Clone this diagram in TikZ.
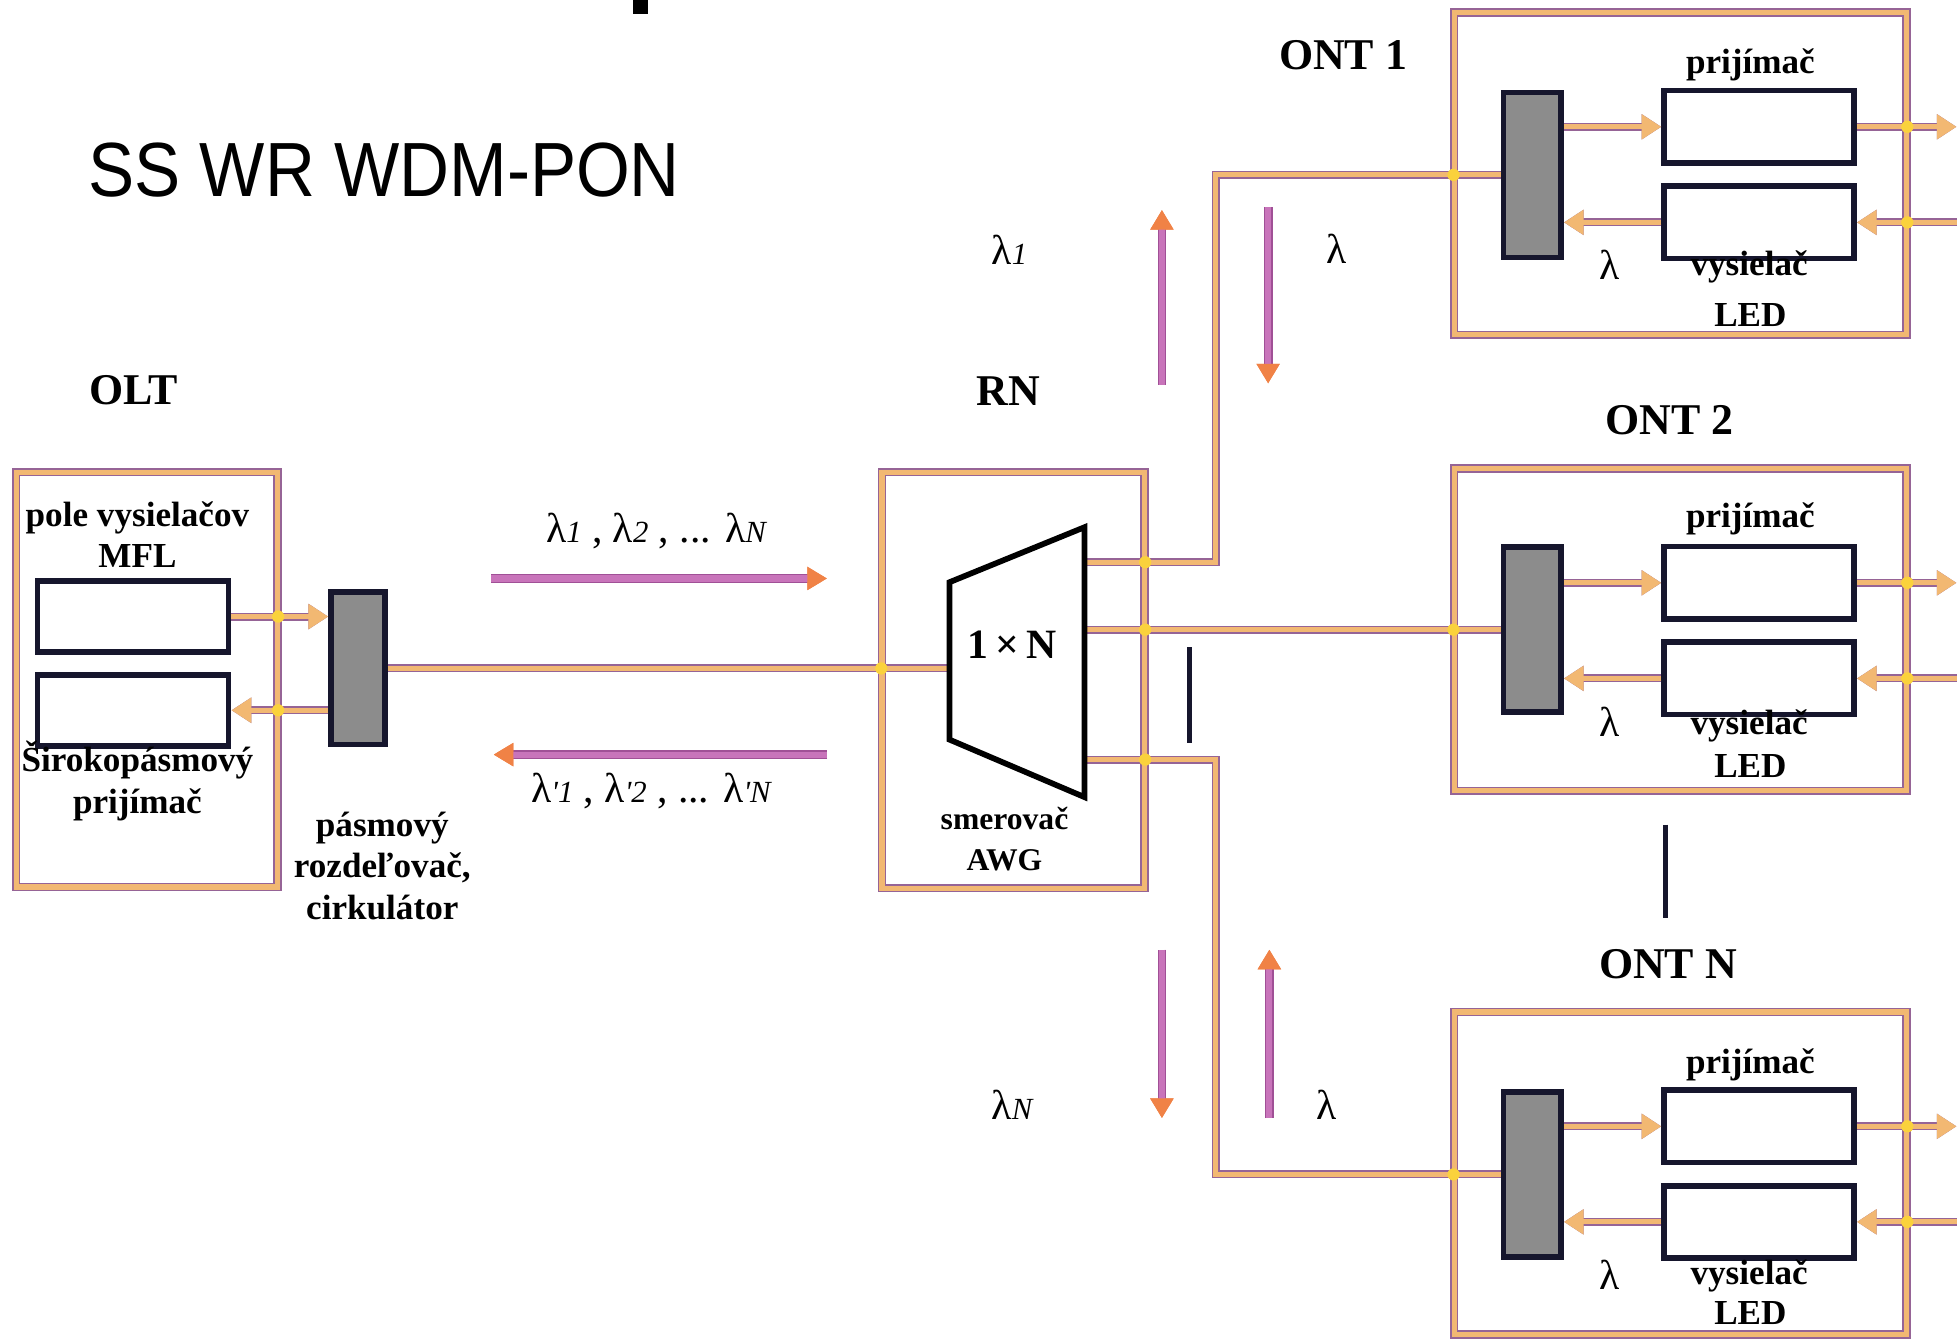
\documentclass[tikz,border=0pt]{standalone}
\usepackage{fontspec}
\setmainfont{Liberation Serif}
\setsansfont{Liberation Sans}
\usepackage{tikz}
\usetikzlibrary{arrows.meta,positioning,calc}

\definecolor{fiborange}{RGB}{242,184,114}
\definecolor{fibedge}{RGB}{150,100,150}
\definecolor{dotyellow}{RGB}{250,210,60}
\definecolor{boxnavy}{RGB}{22,22,45}
\definecolor{splgray}{RGB}{140,140,140}
\definecolor{arrpurple}{RGB}{200,116,186}
\definecolor{arredge}{RGB}{160,80,150}
\definecolor{arrorange}{RGB}{240,130,70}

\newcommand{\wl}[1]{λ{\itshape\fontsize{7}{7}\selectfont#1}}

\begin{document}
\begin{tikzpicture}[
  every node/.style={font=\bfseries\fontsize{8}{9.4}\selectfont, align=center},
  head/.style={font=\bfseries\fontsize{10}{12}\selectfont},
  lam/.style={font=\fontsize{9.5}{11}\selectfont},
  frame/.style={draw=fibedge, line width=0.35pt, double=fiborange, double distance=1.2pt, inner sep=0pt},
  unit/.style={draw=boxnavy, line width=1.3pt, fill=white, minimum width=1.52cm, minimum height=0.58cm, inner sep=0pt},
  splitter/.style={draw=boxnavy, line width=1.3pt, fill=splgray, minimum width=0.46cm, minimum height=1.32cm, inner sep=0pt},
  fiber/.style={draw=fiborange, line width=1.1pt, preaction={draw=fibedge, line width=1.8pt}},
  fibarr/.style={fiber, -{Triangle[length=4.5pt,width=5.5pt]}},
  wave/.style={draw=arrpurple, line width=1.4pt, preaction={draw=arredge, line width=2pt}, -{Triangle[length=4.5pt,width=5pt,color=arrorange]}},
]
\useasboundingbox (0,0) rectangle (15.68,-10.71);

% title
\node[font=\sffamily\fontsize{17.5}{20}\selectfont, anchor=base west, inner sep=0pt] (title) at (0.70,-1.57) {\scalebox{0.9}[1]{SS WR WDM-PON}};
\fill[black] (5.07,0) rectangle (5.19,-0.11);

% frames
\node[frame, minimum width=2.09cm, minimum height=3.32cm] (olt) at (1.175,-5.44) {};
\node[frame, minimum width=2.10cm, minimum height=3.33cm] (rn) at (8.11,-5.445) {};
\node[frame, minimum width=3.62cm, minimum height=2.58cm] (ont1) at (13.45,-1.39) {};
\node[frame, minimum width=3.62cm, minimum height=2.58cm] (ont2) at (13.45,-5.04) {};
\node[frame, minimum width=3.62cm, minimum height=2.58cm] (ontn) at (13.45,-9.39) {};

\node[head] (oltlab) at (1.07,-3.12) {OLT};
\node[head] (rnlab) at (8.07,-3.13) {RN};
\node[head] (ont1lab) at (10.75,-0.44) {ONT 1};
\node[head] (ont2lab) at (13.36,-3.36) {ONT 2};
\node[head] (ontnlab) at (13.35,-7.72) {ONT N};

% OLT
\node[unit, minimum width=1.53cm, minimum height=0.57cm] (mfl) at (1.065,-4.935) {};
\node[unit, minimum width=1.53cm, minimum height=0.57cm] (bbrx) at (1.065,-5.685) {};
\node[splitter, minimum width=0.43cm, minimum height=1.22cm] (circ) at (2.865,-5.35) {};
\node (mfllab) at (1.10,-4.28) {pole vysielačov\\MFL};
\node (bbrxlab) at (1.10,-6.25) {Širokopásmový\\prijímač};
\node (circlab) at (3.06,-6.93) {pásmový\\rozdeľovač,\\cirkulátor};

% ONT 1
\node[splitter] (spl1) at (12.265,-1.40) {};
\node[unit] (rx1) at (14.08,-1.015) {};
\node[unit] (tx1) at (14.08,-1.78) {};
\node (rx1lab) at (14.01,-0.52) {prijímač};
\node (tx1lab) at (14.00,-2.14) {vysielač};
\node (led1lab) at (14.01,-2.52) {LED};
\node[lam] (lam1) at (12.88,-2.12) {λ};

% ONT 2
\node[splitter] (spl2) at (12.265,-5.04) {};
\node[unit] (rx2) at (14.08,-4.665) {};
\node[unit] (tx2) at (14.08,-5.43) {};
\node (rx2lab) at (14.01,-4.15) {prijímač};
\node (tx2lab) at (14.00,-5.81) {vysielač};
\node (led2lab) at (14.01,-6.13) {LED};
\node[lam] (lam2) at (12.88,-5.78) {λ};

% ONT N
\node[splitter] (spln) at (12.265,-9.40) {};
\node[unit] (rxn) at (14.08,-9.015) {};
\node[unit] (txn) at (14.08,-9.78) {};
\node (rxnlab) at (14.01,-8.52) {prijímač};
\node (txnlab) at (14.00,-10.21) {vysielač};
\node (lednlab) at (14.01,-10.51) {LED};
\node[lam] (lamn) at (12.88,-10.20) {λ};

% AWG ports
\coordinate (awgin) at (7.60,-5.35);
\coordinate (awg1) at (8.68,-4.50);
\coordinate (awg2) at (8.68,-5.04);
\coordinate (awgn) at (8.68,-6.08);
\coordinate (rim) at (15.66,0);

% fibres
\draw[fibarr] (mfl.east) -- (mfl.east -| circ.west);
\draw[fibarr] (bbrx.east -| circ.west) -- (bbrx.east);
\draw[fiber] (circ.east) -- (awgin);
\draw[fiber] (awg1) -- ++(1.05,0) |- (spl1.west);
\draw[fiber] (awg2) -- (spl2.west);
\draw[fiber] (awgn) -- ++(1.05,0) |- (spln.west);
\draw[fibarr] (rx1.west -| spl1.east) -- (rx1.west);
\draw[fibarr] (tx1.west) -- (tx1.west -| spl1.east);
\draw[fibarr] (rx1.east) -- (rx1.east -| rim);
\draw[fibarr] (tx1.east -| rim) -- (tx1.east);
\draw[fibarr] (rx2.west -| spl2.east) -- (rx2.west);
\draw[fibarr] (tx2.west) -- (tx2.west -| spl2.east);
\draw[fibarr] (rx2.east) -- (rx2.east -| rim);
\draw[fibarr] (tx2.east -| rim) -- (tx2.east);
\draw[fibarr] (rxn.west -| spln.east) -- (rxn.west);
\draw[fibarr] (txn.west) -- (txn.west -| spln.east);
\draw[fibarr] (rxn.east) -- (rxn.east -| rim);
\draw[fibarr] (txn.east -| rim) -- (txn.east);

% crossings
\foreach \p in {olt.east |- mfl.east, olt.east |- bbrx.east, rn.west |- awgin, rn.east |- awg1, rn.east |- awg2, rn.east |- awgn,
  ont1.west |- spl1.west, ont1.east |- rx1.east, ont1.east |- tx1.east,
  ont2.west |- spl2.west, ont2.east |- rx2.east, ont2.east |- tx2.east,
  ontn.west |- spln.west, ontn.east |- rxn.east, ontn.east |- txn.east}
  \fill[dotyellow] (\p) circle (1.4pt);

% AWG
\draw[black, line width=1.3pt, fill=white, line join=miter] (awgin |- 0,-4.66) -- (awg1 |- 0,-4.22) -- (awg1 |- 0,-6.38) -- (awgin |- 0,-5.92) -- cycle;
\node[font=\bfseries\fontsize{9.5}{11}\selectfont] (awglab) at (8.10,-5.16) {1\,×\,N};
\node[font=\bfseries\fontsize{7.2}{9.4}\selectfont] (awgname) at (8.04,-6.715) {smerovač\\AWG};

% bars
\draw[boxnavy, line width=1.3pt] (9.52,-5.18) -- (9.52,-5.95);
\draw[boxnavy, line width=1.3pt] (13.33,-6.60) -- (13.33,-7.35);

% wavelengths
\draw[wave] (3.93,-4.63) -- (6.62,-4.63);
\draw[wave] (6.62,-6.04) -- (3.95,-6.04);
\draw[wave] (9.30,-3.08) -- (9.30,-1.68);
\draw[wave] (10.15,-1.66) -- (10.15,-3.07);
\draw[wave] (9.30,-7.60) -- (9.30,-8.95);
\draw[wave] (10.16,-8.95) -- (10.16,-7.60);
\node[lam] (dnlab) at (5.25,-4.25) {\wl{1} , \wl{2} , ... \wl{N}};
\node[lam] (uplab) at (5.21,-6.33) {\wl{\textquotesingle1} , \wl{\textquotesingle2} , ... \wl{\textquotesingle N}};
\node[lam] (l1lab) at (8.08,-2.00) {\wl{1}};
\node[lam] (u1lab) at (10.70,-1.99) {λ};
\node[lam] (lnlab) at (8.10,-8.84) {\wl{N}};
\node[lam] (unlab) at (10.62,-8.84) {λ};
\end{tikzpicture}
\end{document}
